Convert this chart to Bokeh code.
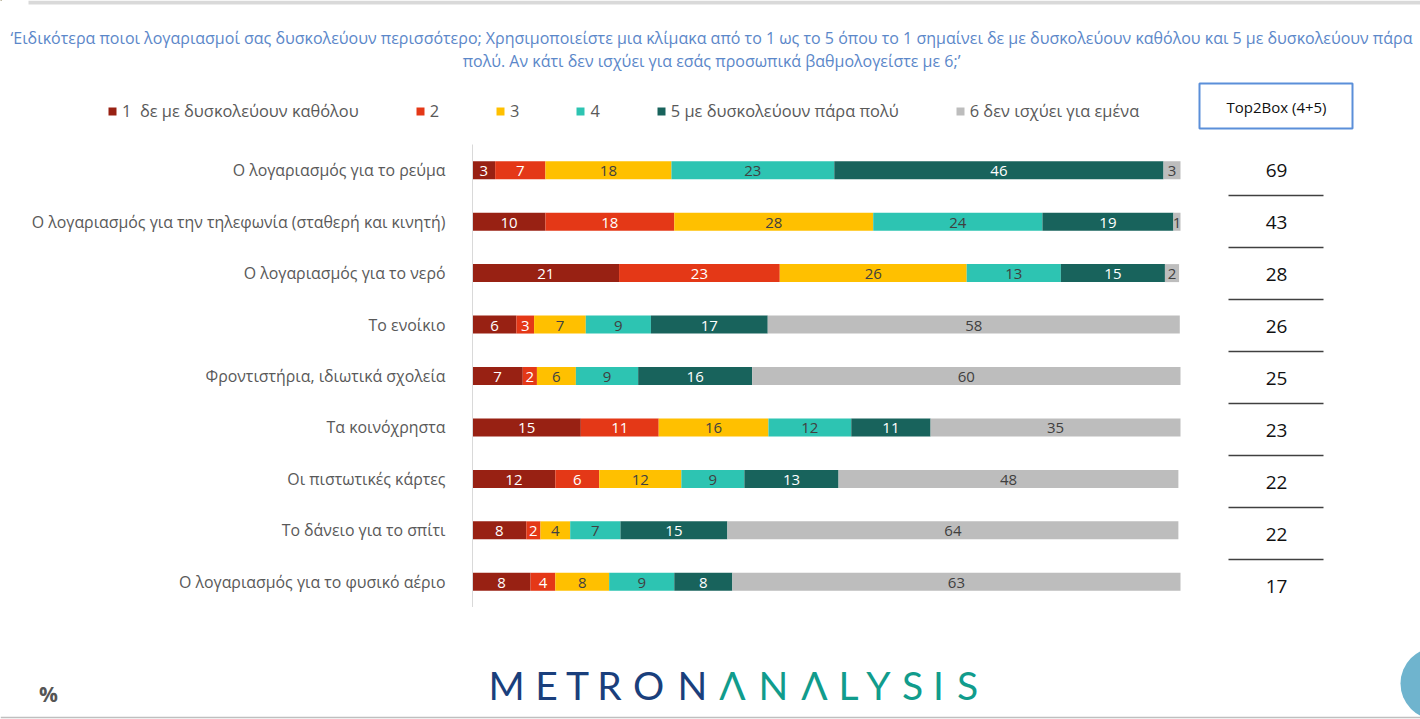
import numpy as np
from bokeh.plotting import figure
from bokeh.layouts import column
from bokeh.models import Range1d, FixedTicker, Legend, LegendItem, ColumnDataSource
from bokeh.core.properties import value
from bokeh.embed import file_html
from bokeh.resources import INLINE

categories = ["Ο λογαριασμός για το ρεύμα",
              "Ο λογαριασμός για την τηλεφωνία (σταθερή και κινητή)",
              "Ο λογαριασμός για το νερό",
              "Το ενοίκιο",
              "Φροντιστήρια, ιδιωτικά σχολεία",
              "Τα κοινόχρηστα",
              "Οι πιστωτικές κάρτες",
              "Το δάνειο για το σπίτι",
              "Ο λογαριασμός για το φυσικό αέριο"]
series_names = ["1  δε με δυσκολεύουν καθόλου", "2", "3", "4",
                "5 με δυσκολεύουν πάρα πολύ", "6 δεν ισχύει για εμένα"]
s1 = [3.2, 10.3, 20.7, 6.2, 7.1, 15.3, 11.7, 7.6, 8.2]
s2 = [7.1, 18.2, 22.7, 2.5, 2.0, 11.0, 6.2, 2.0, 3.5]
s3 = [17.8, 28.1, 26.4, 7.3, 5.5, 15.5, 11.6, 4.2, 7.6]
s4 = [23.0, 23.9, 13.3, 9.2, 8.8, 11.7, 8.9, 7.1, 9.2]
s5 = [46.5, 18.5, 14.7, 16.5, 16.1, 11.2, 13.3, 15.1, 8.2]
s6 = [2.4, 1.0, 2.0, 58.2, 60.5, 35.3, 48.0, 63.7, 63.3]
labels1 = [3, 10, 21, 6, 7, 15, 12, 8, 8]
labels2 = [7, 18, 23, 3, 2, 11, 6, 2, 4]
labels3 = [18, 28, 26, 7, 6, 16, 12, 4, 8]
labels4 = [23, 24, 13, 9, 9, 12, 9, 7, 9]
labels5 = [46, 19, 15, 17, 16, 11, 13, 15, 8]
labels6 = [3, 1, 2, 58, 60, 35, 48, 64, 63]
top2box = [69, 43, 28, 26, 25, 23, 22, 22, 17]
colors = ["#982113", "#E43817", "#FFC000", "#2DC4B2", "#18635C", "#BDBDBD"]
label_colors = ["#FFFFFF", "#FFFFFF", "#404040", "#404040", "#FFFFFF", "#404040"]
title_lines = ["‘Ειδικότερα ποιοι λογαριασμοί σας δυσκολεύουν περισσότερο; Χρησιμοποιείστε μια κλίμακα από το 1 ως το 5 όπου το 1 σημαίνει δε με δυσκολεύουν καθόλου και 5 με δυσκολεύουν πάρα",
               "πολύ. Αν κάτι δεν ισχύει για εσάς προσωπικά βαθμολογείστε με 6;’"]
logo_letters = list("METRONΛNΛLYSIS")
logo_x = [506, 546, 577, 609, 648, 692, 732, 773, 814, 848, 878, 912, 938, 967]
logo_colors = ["#1A3F7C"] * 6 + ["#119C8C"] * 8

FONT = "Open Sans"
W = 1420
Y0, Y1, Y2 = 144, 607, 719   # reference rows where the three panels meet
X0 = 472
PX = 7.08


def blank(height, y0):
    f = figure(width=W, height=height, output_backend="svg", toolbar_location=None,
               x_range=Range1d(0, W), y_range=Range1d(y0 + height, y0),
               x_axis_location=None, y_axis_location=None, min_border=0,
               frame_align=False,
               background_fill_color="white", border_fill_color="white")
    f.outline_line_color = None
    f.grid.visible = False
    return f


# ---- title, legend, Top2Box heading
top = blank(Y0, 0)
top.quad(left=[28], right=[1420], top=[0], bottom=[4], color="#D9D9D9", line_width=0)
top.text(x=[711, 711], y=[37, 60], text=title_lines, text_color="#5B87C9",
         text_font=value(FONT), text_font_size="16px",
         text_align="center", text_baseline="middle")
top.quad(left=[1199], right=[1352], top=[83], bottom=[128], fill_alpha=0,
         line_color="#5B8FD9", line_width=2)
top.text(x=[1276], y=[106], text=["Top2Box (4+5)"], text_color="#111111",
         text_font=value(FONT), text_font_size="15px",
         text_align="center", text_baseline="middle")
swatches = [top.hbar(y=[-50], left=[0], right=[1], height=1, color=c, line_width=0) for c in colors]
legend = Legend(items=[LegendItem(label=n, renderers=[r]) for n, r in zip(series_names, swatches)],
                orientation="horizontal", location=(107, Y0 - 122), spacing=56,
                glyph_width=10, glyph_height=10, label_text_font=FONT, label_width=1,
                label_text_font_size="16.4px", label_text_color="#595959",
                label_standoff=5, background_fill_alpha=0, border_line_color=None,
                padding=0, margin=0)
top.add_layout(legend, "center")

# ---- bars
columns = [s1, s2, s3, s4, s5, s6]
label_columns = [labels1, labels2, labels3, labels4, labels5, labels6]
keys = [f"s{i}" for i in range(6)]
rows = list(range(len(categories)))
src = ColumnDataSource(dict(row=rows, **dict(zip(keys, columns))))

p = figure(width=W, height=Y1 - Y0, output_backend="svg", toolbar_location=None,
           x_range=Range1d(0, (W - X0) / PX),
           y_range=Range1d(len(rows) - 0.5, -0.5),
           min_border_left=X0, min_border_right=0, min_border_top=0, min_border_bottom=0,
           frame_align=False,
           background_fill_color="white", border_fill_color="white")
p.outline_line_color = None
p.grid.visible = False
p.xaxis.visible = False
ax = p.yaxis[0]
ax.ticker = FixedTicker(ticks=rows)
ax.major_label_overrides = dict(zip(rows, categories))
ax.major_tick_line_color = None
ax.minor_tick_line_color = None
ax.axis_line_color = "#D9D9D9"
ax.major_label_text_font = FONT
ax.major_label_text_font_size = "15.9px"
ax.major_label_text_color = "#595959"
ax.major_label_standoff = 21

p.hbar_stack(keys, y="row", height=0.35, color=colors, line_width=0, source=src)

left = np.zeros(len(categories))
for vals, labs, lc in zip(columns, label_columns, label_colors):
    vals = np.array(vals)
    p.text(x=left + vals / 2, y=rows, text=[str(v) for v in labs],
           text_color=lc, text_font=value(FONT), text_font_size="15px",
           text_align="center", text_baseline="middle", y_offset=1)
    left = left + vals

p.extra_y_ranges["top2"] = Range1d((Y1 - 170) / 52, (Y0 - 170) / 52)
cx = (1276 - X0) / PX
p.text(x=[cx] * len(rows), y=rows, y_range_name="top2", text=[str(v) for v in top2box],
       text_color="#111111", text_font=value(FONT), text_font_size="19px",
       text_align="center", text_baseline="middle")
p.segment(x0=[(1228 - X0) / PX] * 8, x1=[(1323 - X0) / PX] * 8,
          y0=[r + 0.48 for r in rows[:-1]], y1=[r + 0.48 for r in rows[:-1]],
          y_range_name="top2", line_color="#404040", line_width=1.5)

# ---- logo strip
bottom = blank(Y2 - Y1, Y1)
bottom.text(x=logo_x, y=[684] * len(logo_x), text=logo_letters, text_color=logo_colors,
            text_font=value("Lato"), text_font_size="39px",
            text_align="center", text_baseline="middle")
bottom.text(x=[48], y=[693], text=["%"], text_color="#555555", text_font=value(FONT),
            text_font_size="21px", text_font_style="bold",
            text_align="center", text_baseline="middle")
bottom.circle(x=[1436], y=[683], radius=36, fill_color="#6FB4CE", line_width=0)
bottom.segment(x0=[0], x1=[1420], y0=[717], y1=[717], line_color="#BFBFBF", line_width=1.5)

open("out.html", "w").write(file_html(column(top, p, bottom, spacing=0), INLINE))
